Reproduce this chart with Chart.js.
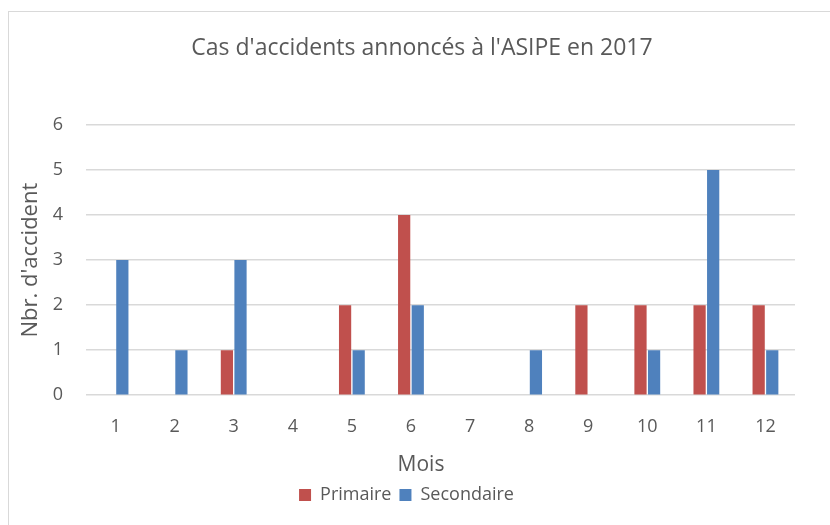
<!DOCTYPE html>
<html>
<head>
<meta charset="utf-8">
<script src="https://cdn.jsdelivr.net/npm/chart.js@4"></script>
<style>
  body { margin: 0; background: #fff; }
  #cadre { position: absolute; left: 8px; top: 11px; width: 840px; height: 540px; border: 1px solid #d9d9d9; }
  #zone { position: absolute; left: 0; top: 0; width: 830px; height: 525px; }
</style>
</head>
<body>
<div id="cadre"></div>
<div id="zone"><canvas id="graphique"></canvas></div>
<script>
const mois = ['1', '2', '3', '4', '5', '6', '7', '8', '9', '10', '11', '12'];
const primaire = [0, 0, 1, 0, 2, 4, 0, 0, 2, 2, 2, 2];
const secondaire = [3, 1, 3, 0, 1, 2, 0, 1, 0, 1, 5, 1];
const graduationsY = [0, 1, 2, 3, 4, 5, 6];
const titre = "Cas d'accidents annoncés à l'ASIPE en 2017";
const titreX = 'Mois';

const police = "'Open Sans', 'Liberation Sans', sans-serif";
const gris = '#595959';
const centreCadre = 422; // milieu du cadre gris

// titre du graphique et titre de l'axe X centrés sur le cadre (comme dans Excel)
const textesCadre = {
  id: 'textesCadre',
  afterDraw(chart) {
    const c = chart.ctx;
    c.save();
    c.fillStyle = gris;
    c.textAlign = 'center';
    c.textBaseline = 'middle';
    c.font = '23px ' + police;
    c.fillText(titre, centreCadre, 48);
    const sx = chart.scales.x;
    c.font = '21px ' + police;
    c.fillText(titreX, centreCadre - 1, sx.bottom - 21 * 1.2 / 2);
    c.restore();
  }
};

const ctx = document.getElementById('graphique').getContext('2d');
new Chart(ctx, {
  type: 'bar',
  data: {
    labels: mois,
    datasets: [
      { label: 'Primaire', data: primaire, backgroundColor: '#c0504d' },
      { label: 'Secondaire', data: secondaire, backgroundColor: '#4f81bd' }
    ]
  },
  options: {
    responsive: true,
    maintainAspectRatio: false,
    animation: false,
    categoryPercentage: 0.46,
    barPercentage: 0.9,
    layout: { padding: { left: 18, right: 35, top: 125, bottom: 11 } },
    plugins: {
      title: { display: false },
      legend: {
        position: 'bottom',
        labels: {
          color: gris,
          font: { family: police, size: 18 },
          boxWidth: 12,
          boxHeight: 12,
          padding: 8
        }
      },
      tooltip: { enabled: false }
    },
    scales: {
      x: {
        grid: { display: false },
        border: { display: false },
        ticks: { color: gris, font: { family: police, size: 18 }, padding: 13 },
        title: {
          display: true, text: titreX, color: 'rgba(0,0,0,0)',
          font: { family: police, size: 21 }, padding: { top: 2, bottom: 0 }
        }
      },
      y: {
        min: 0,
        max: 6,
        afterBuildTicks: (axe) => { axe.ticks = graduationsY.map(v => ({ value: v })); },
        afterFit: (axe) => { axe.width = 68; },
        grid: { color: '#d9d9d9', lineWidth: 1.5, drawTicks: false },
        border: { display: false },
        ticks: { color: gris, font: { family: police, size: 18 }, padding: 23 },
        title: {
          display: true, text: "Nbr. d'accident", color: gris,
          font: { family: police, size: 22 }, padding: { top: 0, bottom: 2 }
        }
      }
    }
  },
  plugins: [textesCadre]
});
</script>
</body>
</html>
